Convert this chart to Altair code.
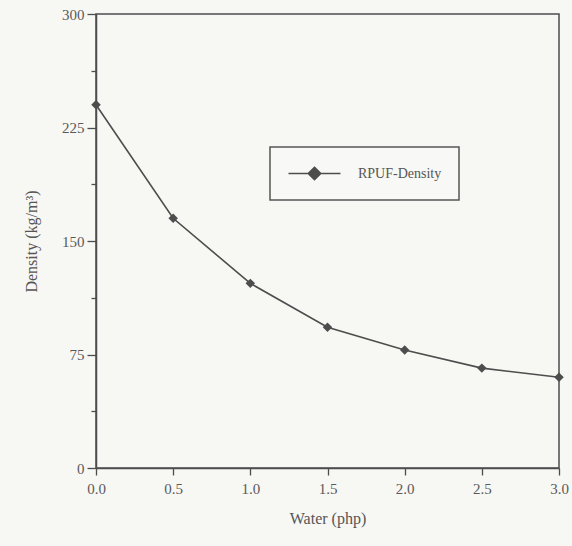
import altair as alt
import pandas as pd

# Water content (php) vs. foam density (kg/m^3)
water = [0.0, 0.5, 1.0, 1.5, 2.0, 2.5, 3.0]
density = [240, 165, 122, 93, 78, 66, 60]
series_name = "RPUF-Density"

x_ticks = [i * 0.25 for i in range(13)]
y_ticks = [i * 37.5 for i in range(9)]

df = pd.DataFrame({"water": water, "density": density, "series": series_name})

INK = "#4d4d4d"
FONT = "Liberation Serif"

# legend symbol: a line segment with a diamond in the middle
legend_path = "M-3,0L3,0M0,-0.72L0.72,0L0,0.72L-0.72,0Z"

x_enc = alt.X(
    "water:Q",
    scale=alt.Scale(domain=[0, 3], nice=False, zero=False),
    axis=alt.Axis(
        title="Water (php)",
        values=x_ticks,
        labelExpr="datum.value % 0.5 == 0 ? format(datum.value, '.1f') : ''",
        tickSize={"condition": {"test": "datum.value % 0.5 == 0", "value": 7}, "value": 4},
        grid=False,
        labelFlush=False,
        labelPadding=6,
        titlePadding=14,
    ),
)
y_enc = alt.Y(
    "density:Q",
    scale=alt.Scale(domain=[0, 300], nice=False),
    axis=alt.Axis(
        title="Density (kg/m³)",
        values=y_ticks,
        labelExpr="datum.value % 75 == 0 ? format(datum.value, 'd') : ''",
        tickSize={"condition": {"test": "datum.value % 75 == 0", "value": 9}, "value": 5},
        grid=False,
        labelFlush=False,
        labelPadding=3,
        titlePadding=22,
    ),
)

color_enc = alt.Color(
    "series:N",
    scale=alt.Scale(range=[INK]),
    legend=alt.Legend(
        title=None,
        orient="none",
        legendX=174,
        legendY=133,
        symbolType=legend_path,
        symbolSize=300,
        symbolOffset=18,
        symbolStrokeWidth=1.6,
        symbolFillColor=INK,
        symbolStrokeColor=INK,
        labelFontSize=14,
        labelFont=FONT,
        labelColor="#555555",
        labelOffset=34,
        padding=17,
        strokeColor="#555555",
        fillColor="#f8f8f6",
    ),
)

line = alt.Chart(df).mark_line(strokeWidth=1.6).encode(x=x_enc, y=y_enc, color=color_enc)
points = alt.Chart(df).mark_point(
    shape="diamond", filled=True, size=90, opacity=1
).encode(x="water:Q", y="density:Q", color=alt.Color("series:N", legend=None))

chart = (
    alt.layer(line, points)
    .properties(
        width=463,
        height=454,
        autosize=alt.AutoSizeParams(type="none"),
        padding={"left": 96, "top": 14, "right": 13, "bottom": 78},
        background="#f7f7f4",
    )
    .configure_view(stroke=INK, strokeWidth=1.5, fill="#f7f7f4")
    .configure_legend(strokeWidth=1.5)
    .configure_axis(
        domainColor=INK,
        domainWidth=1.5,
        tickColor=INK,
        tickWidth=1.3,
        labelFont=FONT,
        labelFontSize=15,
        labelColor="#5a5a5a",
        titleFont=FONT,
        titleFontSize=16,
        titleFontWeight="normal",
        titleColor="#555555",
    )
)

chart.save("out.html", embed_options={"renderer": "svg", "actions": False})
